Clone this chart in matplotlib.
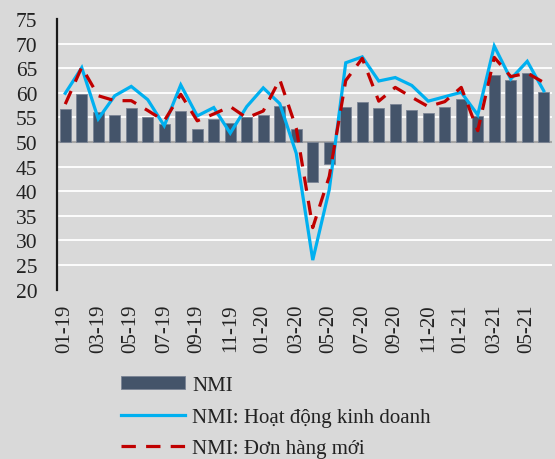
import matplotlib
matplotlib.use("Agg")
import matplotlib.pyplot as plt
import numpy as np

months = ['01-19', '02-19', '03-19', '04-19', '05-19', '06-19', '07-19', '08-19', '09-19', '10-19',
          '11-19', '12-19', '01-20', '02-20', '03-20', '04-20', '05-20', '06-20', '07-20', '08-20',
          '09-20', '10-20', '11-20', '12-20', '01-21', '02-21', '03-21', '04-21', '05-21', '06-21']
nmi = [56.7, 59.7, 56.0, 55.5, 56.9, 55.1, 53.7, 56.4, 52.6, 54.7,
       53.9, 55.0, 55.4, 57.3, 52.6, 41.8, 45.5, 57.1, 58.1, 56.9,
       57.8, 56.6, 55.9, 57.2, 58.7, 55.2, 63.6, 62.7, 64.0, 60.1]
business = [59.9, 65.1, 54.7, 59.4, 61.3, 58.6, 53.3, 61.6, 55.3, 57.0,
            51.8, 57.2, 61.0, 57.8, 47.7, 26.0, 40.3, 66.1, 67.3, 62.4,
            63.1, 61.5, 58.3, 59.2, 60.1, 55.5, 69.5, 62.8, 66.4, 60.4]
new_orders = [57.7, 65.2, 59.4, 58.4, 58.4, 56.4, 54.3, 59.7, 54.3, 55.7,
              57.2, 54.9, 56.3, 62.7, 52.8, 32.6, 43.0, 62.5, 67.0, 58.3,
              61.1, 59.1, 57.2, 58.2, 61.1, 52.3, 67.2, 63.3, 64.0, 62.1]
labels = ['NMI', 'NMI: Hoạt động kinh doanh', 'NMI: Đơn hàng mới']
baseline = 50

plt.rcParams['font.family'] = ['Liberation Serif', 'DejaVu Serif']

bg = '#d9d9d9'
fig = plt.figure(figsize=(5.55, 4.6), dpi=100, facecolor=bg)
ax = fig.add_axes([57 / 555, 1 - 290.6 / 460, 495 / 555, 270.6 / 460])
ax.set_facecolor(bg)

x = np.arange(len(months))
heights = np.array(nmi) - baseline
bars = ax.bar(x, heights, bottom=baseline, width=0.65, color='#44546a',
              edgecolor='#7a8494', linewidth=0.6, zorder=3, label=labels[0])
ax.axhline(baseline, color='#a6a6a6', lw=1.5, zorder=2)
l1, = ax.plot(x, business, color='#00b0f0', lw=2.3, zorder=4, label=labels[1],
              solid_joinstyle='miter')
l2, = ax.plot(x, new_orders, color='#c00000', lw=2.3, zorder=5, label=labels[2],
              dashes=(4.5, 3.2))

ax.set_xlim(-0.5, len(months) - 0.5)
ax.set_ylim(20, 75)
ax.set_yticks(np.arange(20, 76, 5))
ax.yaxis.grid(True, color='white', lw=1.3, zorder=0)
gls = ax.yaxis.get_gridlines()
gls[0].set_visible(False)
gls[-1].set_visible(False)
ax.set_axisbelow(True)

ax.set_xticks(x[::2])
ax.set_xticklabels(months[::2], rotation=90)
ax.tick_params(axis='x', length=0, pad=10, labelsize=15, colors='#222222')
ax.tick_params(axis='y', length=0, pad=14, labelsize=15.5, colors='#222222')

for s in ['top', 'right', 'bottom']:
    ax.spines[s].set_visible(False)
ax.spines['left'].set_color('#1a1a1a')
ax.spines['left'].set_linewidth(1.6)

leg = fig.legend(handles=[bars, l1, l2], labels=labels, loc='upper left',
                 bbox_to_anchor=(121 / 555, 1 - 377 / 460), frameon=False,
                 fontsize=15, handlelength=3.05, handleheight=0.55,
                 handletextpad=0.38, labelspacing=0.6, borderaxespad=0,
                 borderpad=0)
for t in leg.get_texts():
    t.set_color('#222222')

fig.savefig('out.png', dpi=100, facecolor=bg)
